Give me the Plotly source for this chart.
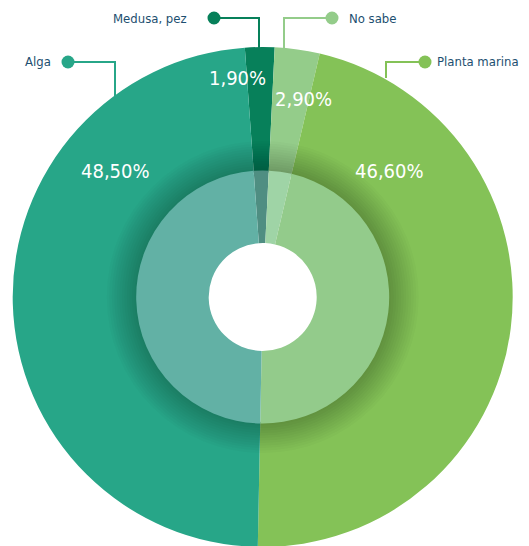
import plotly.graph_objects as go

# data (clockwise from just left of 12 o'clock)
categories = ["Medusa, pez", "No sabe", "Planta marina", "Alga"]
values = [1.9, 2.9, 46.6, 48.5]
outer_colors = ["#07805a", "#94cc8a", "#84c257", "#27a688"]
inner_colors = ["#4f8e82", "#9fd4a6", "#93cb8b", "#62b1a5"]

pct_text = [f"{v:.2f}%".replace(".", ",") for v in values]

W, H = 529, 546
OFF = 8  # page body margin: page px -> figure px
cx, cy = 262.7 - OFF, 297 - OFF
R_out, R_in, R_hole = 250, 126.5, 54
FONT = "Liberation Sans Narrow, DejaVu Sans Condensed, sans-serif"


def px(x):
    return (x - OFF) / W


def py(y):
    return 1 - (y - OFF) / H


def dom(r):
    return dict(x=[(cx - r) / W, (cx + r) / W],
                y=[(H - cy - r) / H, (H - cy + r) / H])


fig = go.Figure()
fig.add_trace(go.Pie(
    labels=categories, values=values, sort=False, direction="clockwise",
    rotation=-4.1, hole=0.5, textinfo="none", hoverinfo="label+percent",
    marker=dict(colors=outer_colors, line=dict(width=0)),
    domain=dom(R_out), showlegend=False,
))

# soft shadow around the inner disc
for k in range(12):
    r = R_in + 2 + k * 2.5
    fig.add_trace(go.Pie(
        values=[1], hole=(R_in - 2) / r, sort=False, textinfo="none",
        hoverinfo="skip", marker=dict(colors=["rgba(0,0,0,0.018)"], line=dict(width=0)),
        domain=dom(r), showlegend=False,
    ))

fig.add_trace(go.Pie(
    labels=categories, values=values, sort=False, direction="clockwise",
    rotation=-4.1, hole=R_hole / R_in, textinfo="none", hoverinfo="skip",
    marker=dict(colors=inner_colors, line=dict(width=0)),
    domain=dom(R_in), showlegend=False,
))

# percentage labels inside the outer ring
pct_pos = [(237, 78), (303, 99), (389, 171), (115, 171)]
for t, (x, y) in zip(pct_text, pct_pos):
    fig.add_annotation(x=px(x), y=py(y), xref="paper", yref="paper",
                       xanchor="center", yanchor="middle",
                       text=t, showarrow=False,
                       font=dict(family=FONT, size=20, color="white"))

# leader lines with dots and category names
leaders = [
    # (dot x, dot y, corner x, end y, label anchor)
    (214, 18, 259, 48, "right"),
    (332, 18, 284, 49, "left"),
    (425, 62, 386, 78, "left"),
    (68, 62, 115, 97, "right"),
]
label_x = [189, 347, 435, 53]
for (dx, dy, kx, ey, anc), name, col, lx in zip(leaders, categories, outer_colors, label_x):
    fig.add_shape(type="path", xref="paper", yref="paper",
                  path=f"M {px(dx)} {py(dy)} L {px(kx)} {py(dy)} L {px(kx)} {py(ey)}",
                  line=dict(color=col, width=2))
    fig.add_shape(type="circle", xref="paper", yref="paper",
                  x0=px(dx - 6.5), x1=px(dx + 6.5),
                  y0=py(dy + 6.5), y1=py(dy - 6.5),
                  fillcolor=col, line=dict(width=0))
    fig.add_annotation(x=px(lx), y=py(dy), xref="paper", yref="paper",
                       text=name, showarrow=False, yanchor="middle",
                       xanchor="left" if anc == "left" else "right",
                       font=dict(family=FONT, size=13, color="#1d4f70"))

fig.update_layout(
    width=W, height=H,
    margin=dict(l=0, r=0, t=0, b=0),
    paper_bgcolor="white",
    plot_bgcolor="white",
)

fig.write_html("out.html")
